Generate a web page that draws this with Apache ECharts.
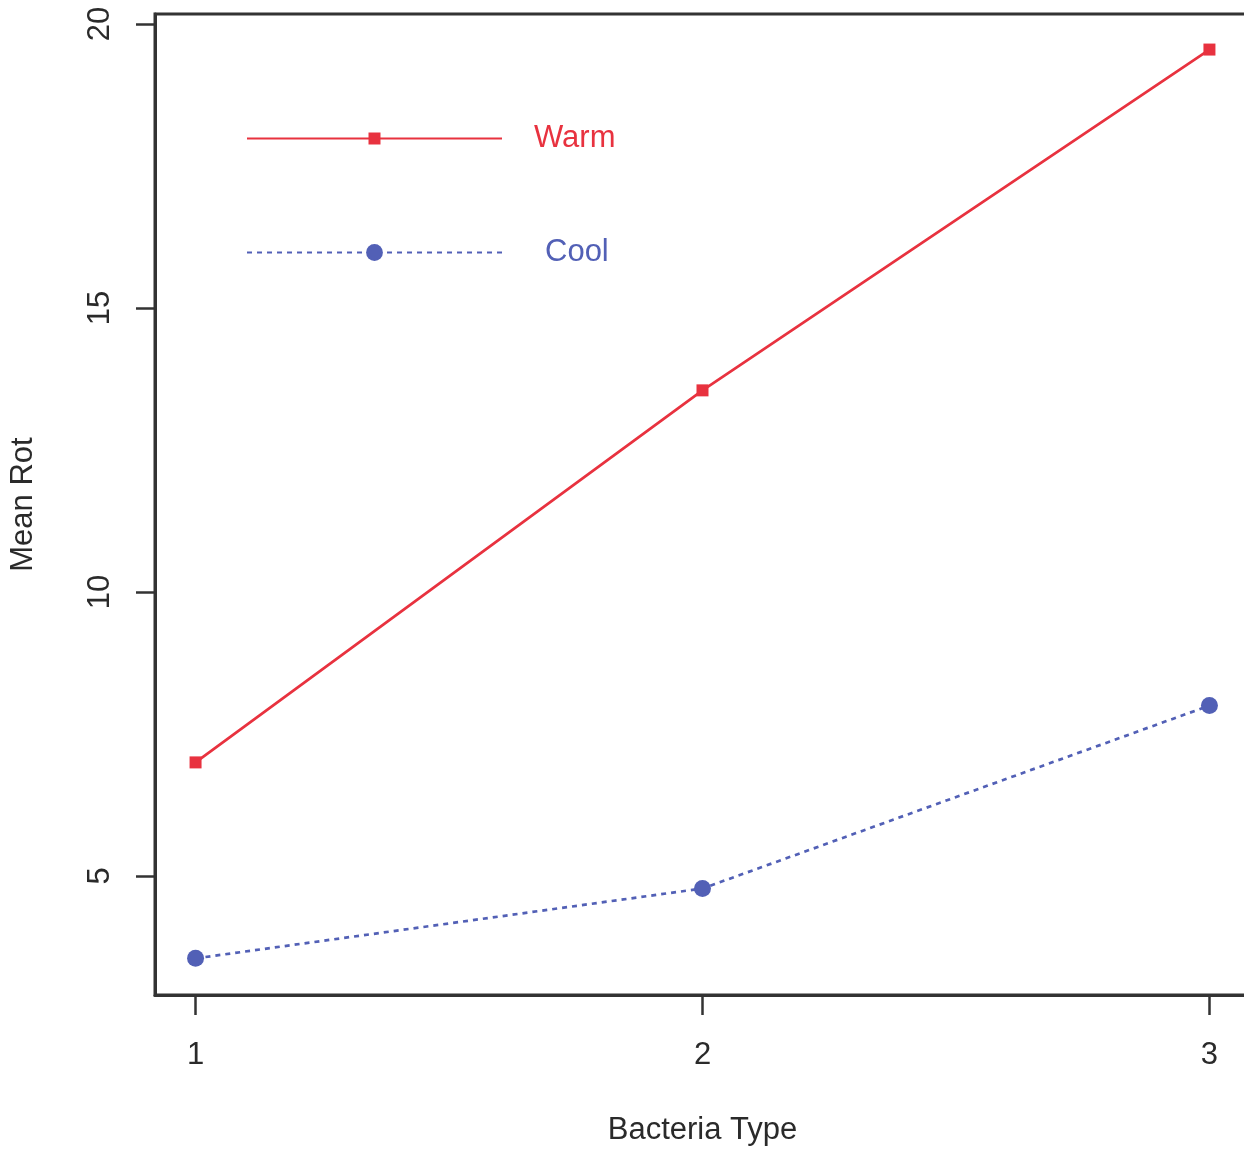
<!DOCTYPE html>
<html>
<head>
<meta charset="utf-8">
<script src="https://cdn.jsdelivr.net/npm/echarts@6/dist/echarts.min.js"></script>
<style>html,body{margin:0;padding:0;background:#fff}#c{width:1244px;height:1150px}</style>
</head>
<body>
<div id="c"></div>
<script>
const bacteriaType = [1, 2, 3];
const warm = [7.0, 13.55, 19.55];
const cool = [3.55, 4.78, 8.0];
const xTicks = [1, 2, 3];
const yTicks = [5, 10, 15, 20];

const RED = '#E8323F';
const BLUE = '#5260B6';
const INK = '#2a2a2a';
const FONT = '"Liberation Sans", Arial, sans-serif';

const chart = echarts.init(document.getElementById('c'), null, {renderer: 'canvas'});
chart.setOption({
  animation: false,
  backgroundColor: '#fff',
  textStyle: {fontFamily: FONT},
  grid: {left: 155, top: 14, width: 1095, height: 981, outerBoundsMode: 'none', containLabel: false,
         show: true, borderColor: '#333', borderWidth: 3, backgroundColor: 'transparent'},
  xAxis: {
    type: 'value', min: 0.92, max: 3.08,
    name: 'Bacteria Type', nameLocation: 'middle', nameGap: 120,
    nameTextStyle: {fontSize: 31, color: INK, fontFamily: FONT},
    axisLine: {show: true, lineStyle: {color: '#333', width: 3}},
    axisTick: {show: true, customValues: xTicks, length: 20, lineStyle: {color: '#333', width: 2.5}},
    axisLabel: {customValues: xTicks, fontSize: 31, color: INK, margin: 45, fontFamily: FONT},
    splitLine: {show: false}
  },
  yAxis: {
    type: 'value', min: 2.905, max: 20.176,
    name: 'Mean Rot', nameLocation: 'middle', nameGap: 116,
    nameTextStyle: {fontSize: 31, color: INK, fontFamily: FONT},
    axisLine: {show: true, lineStyle: {color: '#333', width: 3}},
    axisTick: {show: true, customValues: yTicks, length: 19, lineStyle: {color: '#333', width: 2.5}},
    axisLabel: {customValues: yTicks, fontSize: 31, color: INK, margin: 39, rotate: 90, fontFamily: FONT},
    splitLine: {show: false}
  },
  legend: [
    {
      data: [{name: 'Warm', textStyle: {color: RED, padding: [0, 0, 0, 27]}}],
      orient: 'vertical', left: 246, top: 123, padding: 0,
      itemWidth: 255, itemHeight: 15,
      textStyle: {fontSize: 31, fontFamily: FONT}
    },
    {
      data: [{name: 'Cool', textStyle: {color: BLUE, padding: [0, 0, 0, 38]}}],
      orient: 'vertical', left: 246, top: 237, padding: 0,
      itemWidth: 255, itemHeight: 21,
      textStyle: {fontSize: 31, fontFamily: FONT}
    }
  ],
  series: [
    {
      name: 'Warm', type: 'line',
      data: bacteriaType.map((x, i) => [x, warm[i]]),
      symbol: 'rect', symbolSize: 12,
      lineStyle: {color: RED, width: 2.7},
      itemStyle: {color: RED}
    },
    {
      name: 'Cool', type: 'line',
      data: bacteriaType.map((x, i) => [x, cool[i]]),
      symbol: 'circle', symbolSize: 17,
      lineStyle: {color: BLUE, width: 2.7, type: [5, 5]},
      itemStyle: {color: BLUE}
    }
  ]
});
</script>
</body>
</html>
